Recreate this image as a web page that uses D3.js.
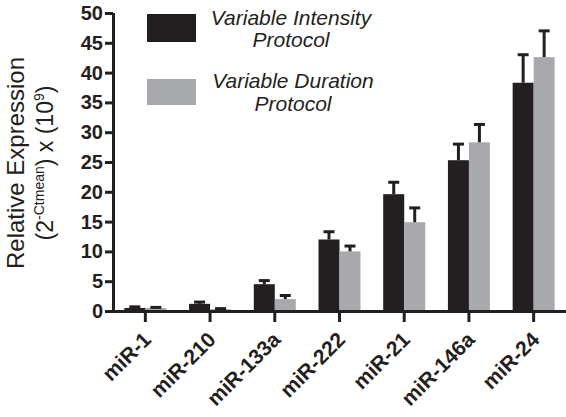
<!DOCTYPE html>
<html><head><meta charset="utf-8">
<script src="https://cdn.jsdelivr.net/npm/d3@7"></script>
<style>body{margin:0;background:#fff}svg{display:block}</style>
</head><body><svg id="c" width="566" height="417"></svg>
<script>
const categories = ["miR-1","miR-210","miR-133a","miR-222","miR-21","miR-146a","miR-24"];
const intensityMean = [0.5, 1.2, 4.5, 12.0, 19.6, 25.3, 38.3];
const intensityErr  = [0.2, 0.3, 0.6, 1.3, 2.0, 2.7, 4.7];
const durationMean  = [0.5, 0.3, 2.0, 10.0, 14.9, 28.3, 42.6];
const durationErr   = [0.1, 0.1, 0.6, 0.9, 2.4, 3.0, 4.4];
const yTicks = [0,5,10,15,20,25,30,35,40,45,50];
const seriesNames = ["Variable Intensity Protocol","Variable Duration Protocol"];
const colors = ["#231f20","#a7a9ac"];

(function(){
const svg = d3.select("#c");
const mLeft = 113, mRight = 566, mTop = 13, mBottom = 311;
const x = d3.scaleBand().domain(categories).range([mLeft, mRight]);
const y = d3.scaleLinear().domain([0,50]).range([mBottom, mTop]);
const bw = 21;
const font = "'Liberation Sans', Arial, Helvetica, sans-serif";

const series = [
  {mean: intensityMean, err: intensityErr, off: -bw, color: colors[0]},
  {mean: durationMean, err: durationErr, off: 0, color: colors[1]}
];
series.forEach(s => {
  const g = svg.append("g");
  categories.forEach((c,i) => {
    const cx = x(c) + x.bandwidth()/2 + s.off;
    g.append("rect").attr("x", cx).attr("width", bw)
      .attr("y", y(s.mean[i])).attr("height", y(0)-y(s.mean[i])).attr("fill", s.color);
    const mx = cx + bw/2;
    const yt = y(s.mean[i] + s.err[i]);
    g.append("line").attr("x1", mx).attr("x2", mx).attr("y1", y(s.mean[i])).attr("y2", yt)
      .attr("stroke", "#231f20").attr("stroke-width", 3);
    g.append("line").attr("x1", mx-5.5).attr("x2", mx+5.5).attr("y1", yt).attr("y2", yt)
      .attr("stroke", "#231f20").attr("stroke-width", 3);
  });
});

// Y axis
const ya = svg.append("g").attr("transform", `translate(${mLeft},0)`)
  .call(d3.axisLeft(y).tickValues(yTicks).tickSize(8).tickPadding(2));
ya.select(".domain").attr("stroke","#231f20").attr("stroke-width",3).attr("d", `M0.5,${mTop}V${mBottom}`);
ya.selectAll(".tick line").attr("stroke","#231f20").attr("stroke-width",3);
ya.selectAll(".tick text").attr("font-family", font).attr("font-weight","bold")
  .attr("font-size", 20).attr("fill","#231f20");

// X axis
const xa = svg.append("g").attr("transform", `translate(0,${mBottom})`)
  .call(d3.axisBottom(x).tickSize(11).tickFormat(""));
xa.select(".domain").attr("stroke","#231f20").attr("stroke-width",3).attr("d", `M${mLeft},0.5H${mRight}`);
xa.selectAll(".tick line").attr("stroke","#231f20").attr("stroke-width",3);
categories.forEach(c => {
  svg.append("text").attr("transform", `translate(${x(c)+x.bandwidth()/2+7},${mBottom+30}) rotate(-45)`)
    .attr("text-anchor","end").attr("font-family", font).attr("font-weight","bold")
    .attr("font-size", 21).attr("fill","#231f20").text(c);
});

// Y title
const ytg = svg.append("g").attr("transform", "translate(24,163) rotate(-90)");
ytg.append("text").attr("text-anchor","middle").attr("font-family", font).attr("font-size", 24)
  .attr("fill","#231f20").text("Relative Expression");
const t2 = ytg.append("text").attr("y", 29).attr("text-anchor","middle").attr("font-family", font)
  .attr("font-size", 23).attr("fill","#231f20");
t2.append("tspan").text("(2");
t2.append("tspan").attr("font-size", 14).attr("dy", -9).text("-Ctmean");
t2.append("tspan").attr("dy", 9).text(") x (10");
t2.append("tspan").attr("font-size", 14).attr("dy", -9).text("9");
t2.append("tspan").attr("dy", 9).text(")");

// Legend
const lg = svg.append("g");
[[14, 25, 47, 0, 291],[79, 88, 111, 1, 293]].forEach(([ly, b1, b2, i, cxp]) => {
  lg.append("rect").attr("x", 147).attr("y", ly).attr("width", 49).attr("height", i===0?28:26)
    .attr("fill", colors[i]);
  const words = seriesNames[i].split(" ");
  lg.append("text").attr("x", cxp).attr("y", b1).attr("text-anchor","middle")
    .attr("font-family", font).attr("font-style","italic").attr("font-size", 21).attr("fill","#231f20")
    .text(words.slice(0,2).join(" "));
  lg.append("text").attr("x", cxp).attr("y", b2).attr("text-anchor","middle")
    .attr("font-family", font).attr("font-style","italic").attr("font-size", 21).attr("fill","#231f20")
    .text(words[2]);
});
})();
</script></body></html>
